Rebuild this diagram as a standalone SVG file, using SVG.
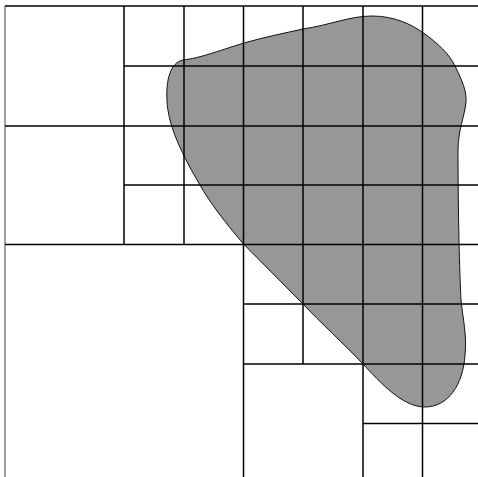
<svg xmlns="http://www.w3.org/2000/svg" width="478" height="477" viewBox="0 0 478 477">
<style>
.g{stroke:#000;stroke-width:1.5;fill:none}
</style>
<rect x="0" y="0" width="478" height="477" fill="#fff"/>
<path id="blob" d="M 167,100 C 166,80 170,63 183,60 C 200,58 215,52 244,43 C 265,37 285,33 303,29 C 330,25 350,16 372,16 C 395,16 412,25 422,32 C 438,43 450,55 455,66 C 462,80 467,92 466,102 C 465,115 458,130 458,150 C 458,200 459,260 461,300 C 463,320 467,335 465,355 C 463,385 448,407 425,407 C 402,407 380,382 363,364 C 345,345 320,322 303,304 L 243.5,244 C 225,222 210,203 200,185 C 188,165 175,140 170,120 C 168,112 167,105 167,100 Z" fill="#979797" stroke="#111" stroke-width="1"/>
<g id="grid">
<line x1="5" y1="6" x2="5" y2="477" stroke="#808080" stroke-width="1.5"/>
<line class="g" x1="5" y1="6" x2="478" y2="6"/>
<line class="g" x1="124" y1="66" x2="478" y2="66"/>
<line class="g" x1="5" y1="126" x2="478" y2="126"/>
<line class="g" x1="124" y1="185" x2="478" y2="185"/>
<line class="g" x1="5" y1="244.5" x2="478" y2="244.5"/>
<line class="g" x1="243.5" y1="304" x2="478" y2="304"/>
<line class="g" x1="243.5" y1="364" x2="478" y2="364"/>
<line class="g" x1="363" y1="423.5" x2="478" y2="423.5"/>
<line class="g" x1="124" y1="6" x2="124" y2="244.5"/>
<line class="g" x1="184" y1="6" x2="184" y2="244.5"/>
<line class="g" x1="243.5" y1="6" x2="243.5" y2="477"/>
<line class="g" x1="303" y1="6" x2="303" y2="364"/>
<line class="g" x1="363" y1="6" x2="363" y2="477"/>
<line class="g" x1="422.5" y1="6" x2="422.5" y2="477"/>
</g>
</svg>
